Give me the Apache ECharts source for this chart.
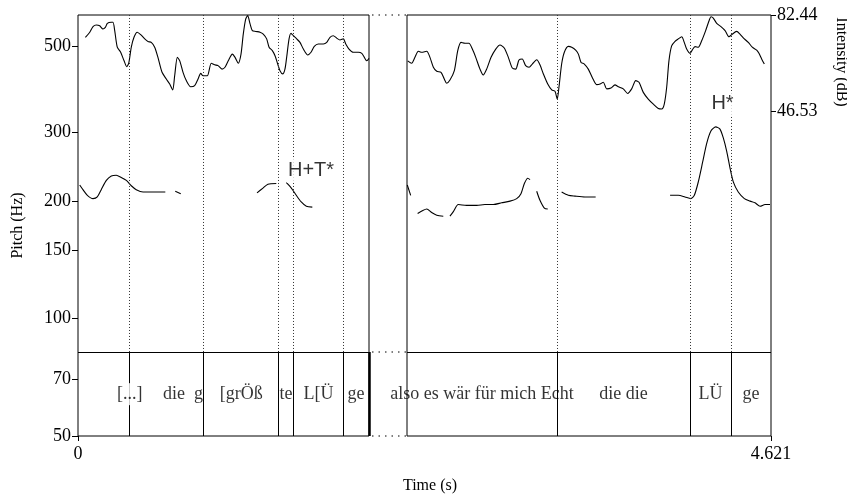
<!DOCTYPE html>
<html>
<head>
<meta charset="utf-8">
<script src="https://cdn.jsdelivr.net/npm/echarts@6/dist/echarts.min.js"></script>
<style>
  html, body { margin: 0; padding: 0; background: #fff; }
  #main { width: 847px; height: 496px; }
</style>
</head>
<body>
<div id="main"></div>
<script>
// time (s) / intensity (dB) / pitch (Hz)
var leftIntT = [0.052,0.083,0.106,0.129,0.153,0.176,0.193,0.207,0.235,0.247,
  0.259,0.277,0.301,0.325,0.344,0.358,0.376,0.395,0.418,0.442,
  0.471,0.494,0.517,0.541,0.564,0.593,0.623,0.647,0.668,0.682,
  0.701,0.718,0.741,0.764,0.795,0.823,0.847,0.866,0.882,0.912,
  0.940,0.964,0.988,1.016,1.037,1.060,1.089,1.108,1.131,1.150,
  1.166,1.183,1.197,1.214,1.230,1.254,1.284,1.307,1.331,1.348,
  1.371,1.390,1.409,1.425,1.444,1.460,1.472,1.489,1.503,1.519,
  1.543,1.566,1.590,1.621,1.644,1.667,1.695,1.731,1.755,1.778,
  1.801,1.825,1.848,1.872,1.889,1.912,1.942,1.978,2.002,2.020,
  2.037,2.053];
var leftIntDb = [74.1,76.0,78.1,78.7,78.4,77.2,77.8,79.3,79.7,79.7,
  76.6,70.4,68.5,65.3,63.1,64.4,70.4,74.1,76.0,75.1,
  73.5,72.5,72.2,70.4,66.6,61.0,58.5,56.6,54.4,59.7,
  66.6,65.3,61.0,57.9,55.6,56.0,58.5,60.6,59.7,59.7,
  64.4,63.8,63.5,62.2,62.9,65.3,67.8,66.6,64.4,67.8,
  75.3,80.9,82.2,79.1,76.6,76.3,76.0,75.3,73.5,70.4,
  69.1,67.2,64.1,61.6,60.4,62.2,66.6,73.5,75.6,74.7,
  73.5,72.2,69.7,67.5,68.5,70.7,71.6,71.6,72.2,74.1,
  74.7,73.8,73.1,73.5,71.6,69.7,68.5,68.5,68.1,66.6,
  65.3,66.2];

var rightIntT = [2.058,2.086,2.109,2.133,2.157,2.192,2.215,2.239,2.263,2.293,
  2.316,2.333,2.356,2.387,2.411,2.434,2.462,2.490,2.514,2.538,
  2.568,2.591,2.615,2.646,2.679,2.709,2.739,2.768,2.796,2.820,
  2.843,2.866,2.890,2.914,2.937,2.968,2.991,3.015,3.046,3.074,
  3.097,3.113,3.125,3.144,3.163,3.191,3.215,3.243,3.262,3.281,
  3.304,3.332,3.360,3.391,3.415,3.438,3.462,3.492,3.520,3.544,
  3.579,3.610,3.638,3.667,3.690,3.720,3.755,3.791,3.826,3.850,
  3.868,3.885,3.901,3.920,3.944,3.967,3.991,4.009,4.026,4.050,
  4.066,4.085,4.108,4.132,4.160,4.184,4.198,4.214,4.238,4.268,
  4.297,4.325,4.344,4.379,4.402,4.433,4.461,4.489,4.520,4.536,
  4.555,4.574];
var rightIntDb = [65.3,64.4,66.6,68.9,68.5,68.9,66.6,62.9,61.4,61.0,
  58.5,56.9,58.1,61.6,69.1,72.2,71.9,71.9,69.7,66.6,
  62.2,60.0,62.2,66.6,69.7,71.2,70.1,66.6,62.6,62.2,
  65.6,66.0,63.5,62.9,64.1,65.7,63.8,60.4,56.6,54.4,
  53.9,51.0,55.4,64.1,68.5,70.7,70.4,69.3,67.8,64.7,
  64.1,62.2,59.1,56.4,56.6,57.3,54.8,55.1,56.3,55.6,
  54.8,53.1,54.8,57.9,57.3,53.5,51.0,49.1,47.5,47.3,
  49.1,55.4,65.3,70.9,72.6,73.5,74.3,72.2,69.7,68.1,
  69.4,70.6,70.4,72.8,76.6,80.3,81.8,81.3,79.3,78.1,
  76.6,74.3,75.1,76.3,75.3,73.5,72.2,70.4,69.3,68.1,
  66.0,64.1];

// null = unvoiced gap
var leftPitchT = [0.012,0.035,0.066,0.106,0.136,0.164,0.200,0.235,0.270,0.305,0.341,0.376,0.411,0.459,0.517,0.576,0.616,
  0.650, 0.686,0.725, 1.000, 1.263,1.305,1.340,1.399, 1.435, 1.470,1.505,1.540,1.575,1.611,1.653];
var leftPitchHz = [220,214,207,203,205,214,226,232,233,230,226,219,214,211,211,211,211,
  null, 212,209, null, 210,216,221,222, null, 223,216,207,199,194,193];

var rightPitchT = [2.055,2.079, 2.100, 2.128,2.161,2.192,2.227,2.263,2.309, 2.330,
  2.356,2.380,2.415,2.474,2.545,2.603,2.662,2.721,2.780,2.827,2.857,2.881,2.905,2.921, 2.945,
  2.968,2.991,3.022,3.046, 3.100, 3.144,3.191,3.238,3.309,3.384, 3.600,
  3.909,3.967,4.014,4.055,4.080,4.108,4.139,4.167,4.198,4.231,4.261,4.285,4.309,4.332,4.355,4.390,4.433,4.473,4.508,4.544,4.579,4.614];
var rightPitchHz = [220,207, null, 186,189,191,187,184,183, null,
  183,188,196,195,195,196,196,198,200,203,209,222,229,227, null,
  212,201,192,191, null, 211,207,206,205,205, null,
  207,207,205,203,207,224,252,281,303,310,306,290,268,243,224,211,203,200,198,194,196,196];

// text grid
var leftBounds = [0.365, 0.887, 1.416, 1.519, 1.872];
var rightBounds = [3.111, 4.052, 4.339];
var leftWords = ['[...]', 'die  g', '[grÖß', 'te', 'L[Ü', 'ge'];
var leftWordT = [0.365, 0.741, 1.151, 1.467, 1.696, 1.962];
var rightWords = ['also es wär für mich Echt', 'die die', 'LÜ', 'ge'];
var rightWordT = [2.582, 3.581, 4.195, 4.480];

var tones = ['H+T*', 'H*'];
var toneT = [1.644, 4.279];
var toneHz = [239, 355];

var pitchTicks = [50, 70, 100, 150, 200, 300, 500];
var intTicks = [46.53, 82.44];
var tStart = 0, tBreak = 2.053, tEnd = 4.621;

var pitchMin = 50, pitchMax = 600, tierTop = 82.1, wordHz = 64;
var intMin = -75.04, intMax = 82.44;

var serif = 'Liberation Serif';

function pairs(ts, vs) {
  return ts.map(function (t, i) { return [t, vs[i] == null ? '-' : vs[i]]; });
}

function boundaryLines(bounds, t0, t1, withEdge) {
  var out = [];
  bounds.forEach(function (t) {
    out.push([{coord: [t, tierTop], lineStyle: {type: [1, 2], color: '#333', width: 1}},
              {coord: [t, pitchMax]}]);
    out.push([{coord: [t, pitchMin], lineStyle: {type: 'solid', color: '#000', width: 1}},
              {coord: [t, tierTop]}]);
  });
  out.push([{coord: [t0, tierTop], lineStyle: {type: 'solid', color: '#000', width: 1}},
            {coord: [t1, tierTop]}]);
  if (withEdge) {
    out.push([{coord: [t1, pitchMin], lineStyle: {type: 'solid', color: '#000', width: 2.5}},
              {coord: [t1, tierTop]}]);
  }
  return out;
}

function wordData(words, ts) {
  return words.map(function (w, i) {
    var d = {name: w, value: [ts[i], wordHz]};
    if (w === '[...]') d.label = {backgroundColor: '#fff', padding: [2, 0]};
    return d;
  });
}

var chart = echarts.init(document.getElementById('main'));

var lineStyle = {color: '#000', width: 1.1};

var option = {
  animation: false,
  backgroundColor: '#fff',
  grid: [
    {left: 78, top: 15, width: 291, height: 421, show: true, borderColor: '#000', borderWidth: 1},
    {left: 407, top: 15, width: 364, height: 421, show: true, borderColor: '#000', borderWidth: 1}
  ],
  xAxis: [
    {gridIndex: 0, type: 'value', min: tStart, max: tBreak,
      axisLine: {show: false, onZero: false}, splitLine: {show: false},
      axisTick: {show: true, length: 5, customValues: [tStart], lineStyle: {color: '#000'}},
      axisLabel: {customValues: [tStart], color: '#000', fontFamily: serif, fontSize: 18, margin: 9,
        formatter: function (v) { return String(v); }}},
    {gridIndex: 1, type: 'value', min: tBreak, max: tEnd,
      axisLine: {show: false, onZero: false}, splitLine: {show: false},
      axisTick: {show: true, length: 5, customValues: [tEnd], lineStyle: {color: '#000'}},
      axisLabel: {customValues: [tEnd], color: '#000', fontFamily: serif, fontSize: 18, margin: 9,
        formatter: function (v) { return v.toFixed(3); }}}
  ],
  yAxis: [
    {gridIndex: 0, type: 'log', min: pitchMin, max: pitchMax, position: 'left',
      name: 'Pitch (Hz)', nameLocation: 'middle', nameRotate: 90, nameGap: 52,
      nameTextStyle: {fontFamily: serif, fontSize: 16, color: '#000'},
      axisLine: {show: false, onZero: false}, splitLine: {show: false},
      axisTick: {show: true, length: 6, customValues: pitchTicks, lineStyle: {color: '#000'}},
      axisLabel: {customValues: pitchTicks, color: '#000', fontFamily: serif, fontSize: 18, margin: 7}},
    {gridIndex: 0, type: 'value', min: intMin, max: intMax, show: false},
    {gridIndex: 1, type: 'log', min: pitchMin, max: pitchMax, show: false},
    {gridIndex: 1, type: 'value', min: intMin, max: intMax, position: 'right',
      axisLine: {show: false, onZero: false}, splitLine: {show: false},
      axisTick: {show: true, length: 5, customValues: intTicks, lineStyle: {color: '#000'}},
      axisLabel: {customValues: intTicks, color: '#000', fontFamily: serif, fontSize: 18, margin: 6,
        formatter: function (v) { return v.toFixed(2); }}}
  ],
  series: [
    {type: 'line', xAxisIndex: 0, yAxisIndex: 1, data: pairs(leftIntT, leftIntDb),
      showSymbol: false, smooth: 0.25, lineStyle: lineStyle, z: 2},
    {type: 'line', xAxisIndex: 1, yAxisIndex: 3, data: pairs(rightIntT, rightIntDb),
      showSymbol: false, smooth: 0.25, lineStyle: lineStyle, z: 2},
    {type: 'line', xAxisIndex: 0, yAxisIndex: 0, data: pairs(leftPitchT, leftPitchHz),
      showSymbol: false, smooth: 0.25, connectNulls: false, lineStyle: lineStyle, z: 1,
      markLine: {silent: true, symbol: 'none', label: {show: false},
        data: boundaryLines(leftBounds, tStart, tBreak, true)}},
    {type: 'line', xAxisIndex: 1, yAxisIndex: 2, data: pairs(rightPitchT, rightPitchHz),
      showSymbol: false, smooth: 0.25, connectNulls: false, lineStyle: lineStyle, z: 1,
      markLine: {silent: true, symbol: 'none', label: {show: false},
        data: boundaryLines(rightBounds, tBreak, tEnd, false)}},
    {type: 'scatter', xAxisIndex: 0, yAxisIndex: 0, data: wordData(leftWords, leftWordT),
      symbolSize: 0, z: 5, silent: true,
      label: {show: true, position: 'inside', formatter: '{b}', color: '#000', fontFamily: serif, fontSize: 18}},
    {type: 'scatter', xAxisIndex: 1, yAxisIndex: 2, data: wordData(rightWords, rightWordT),
      symbolSize: 0, z: 5, silent: true,
      label: {show: true, position: 'inside', formatter: '{b}', color: '#000', fontFamily: serif, fontSize: 18}},
    {type: 'scatter', xAxisIndex: 0, yAxisIndex: 0,
      data: [{name: tones[0], value: [toneT[0], toneHz[0]]}],
      symbolSize: 0, z: 5, silent: true,
      label: {show: true, position: 'inside', formatter: '{b}', color: '#000', fontFamily: 'Liberation Sans',
        fontSize: 20, backgroundColor: '#fff', padding: [2, 1]}},
    {type: 'scatter', xAxisIndex: 1, yAxisIndex: 2,
      data: [{name: tones[1], value: [toneT[1], toneHz[1]]}],
      symbolSize: 0, z: 5, silent: true,
      label: {show: true, position: 'inside', formatter: '{b}', color: '#000', fontFamily: 'Liberation Sans',
        fontSize: 20, backgroundColor: '#fff', padding: [2, 1]}}
  ],
  graphic: [
    {type: 'line', shape: {x1: 372, y1: 15, x2: 406, y2: 15}, style: {stroke: '#000', lineWidth: 1, lineDash: [1.5, 5]}},
    {type: 'line', shape: {x1: 372, y1: 352, x2: 406, y2: 352}, style: {stroke: '#000', lineWidth: 1, lineDash: [1.5, 5]}},
    {type: 'line', shape: {x1: 372, y1: 436, x2: 406, y2: 436}, style: {stroke: '#000', lineWidth: 1, lineDash: [1.5, 5]}},
    {type: 'text', x: 430, y: 486, style: {text: 'Time (s)', fill: '#000', font: '16px "Liberation Serif"',
      textAlign: 'center', textVerticalAlign: 'middle'}},
    {type: 'text', x: 841, y: 62, rotation: -Math.PI / 2,
      style: {text: 'Intensity (dB)', fill: '#000', font: '16px "Liberation Serif"',
        textAlign: 'center', textVerticalAlign: 'middle'}}
  ]
};

chart.setOption(option);
</script>
</body>
</html>
